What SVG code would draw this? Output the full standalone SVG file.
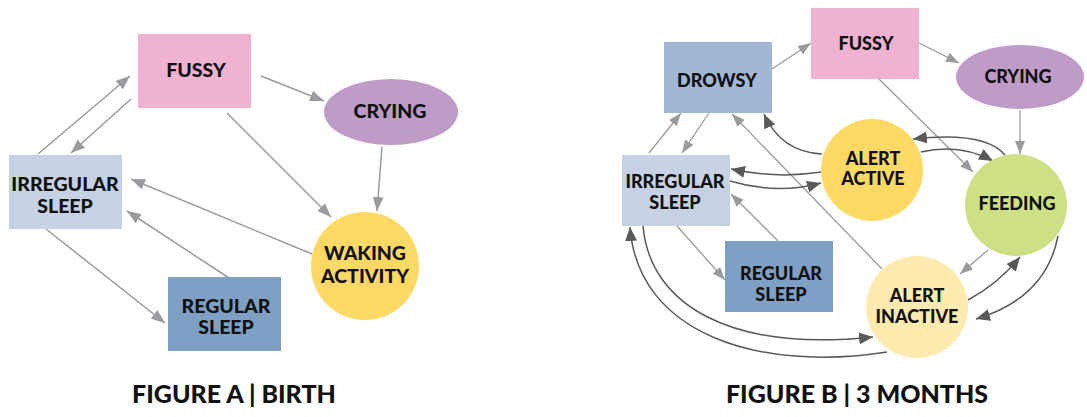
<svg xmlns="http://www.w3.org/2000/svg" width="1087" height="417" viewBox="0 0 1087 417">
<style>
.t{font-family:Lato,"Open Sans","Liberation Sans",sans-serif;font-weight:900;fill:#111;text-anchor:middle}
.ta{font-size:19.5px}
.tb{font-size:18px}
.cap{font-family:Lato,"Liberation Sans",sans-serif;font-weight:900;font-size:25px;fill:#111;text-anchor:middle}
.lg{fill:none;stroke:#9A9B9E;stroke-width:1.5}
.lgb{fill:none;stroke:#9A9B9E;stroke-width:1.3;marker-end:url(#mlb)}
.la{marker-end:url(#mla)}
.dk{fill:none;stroke:#58595B;stroke-width:1.5;marker-end:url(#md)}
</style>
<defs>
<marker id="mla" viewBox="0 0 14 11" refX="14" refY="5.5" markerWidth="14" markerHeight="11" markerUnits="userSpaceOnUse" orient="auto"><path d="M0,0 L14,5.5 L0,11 z" fill="#9A9B9E"/></marker>
<marker id="mlb" viewBox="0 0 13 10" refX="13" refY="5" markerWidth="13" markerHeight="10" markerUnits="userSpaceOnUse" orient="auto"><path d="M0,0 L13,5 L0,10 z" fill="#9A9B9E"/></marker>
<marker id="md" viewBox="0 0 14 12" refX="14" refY="6" markerWidth="14" markerHeight="12" markerUnits="userSpaceOnUse" orient="auto"><path d="M0,0 L14,6 L0,12 z" fill="#58595B"/></marker>
</defs>
<rect width="1087" height="417" fill="#fff"/>

<!-- Figure A connectors -->
<g id="connectors-a">
<line class="lg la" x1="38" y1="154" x2="130" y2="76"/>
<line class="lg la" x1="131" y1="99" x2="71" y2="153"/>
<line class="lg la" x1="261" y1="76" x2="324" y2="101"/>
<line class="lg la" x1="227" y1="113" x2="331" y2="217"/>
<line class="lg la" x1="382" y1="147" x2="377" y2="211"/>
<line class="lg la" x1="312" y1="254" x2="131" y2="179"/>
<line class="lg la" x1="232" y1="280" x2="127" y2="211"/>
<line class="lg la" x1="46" y1="229" x2="165" y2="323"/>
</g>

<!-- Figure A nodes -->
<g id="a-fussy"><rect x="138" y="34" width="113" height="74" fill="#EFB2D1"/><text class="t ta" x="196" y="77">FUSSY</text></g>
<g id="a-crying"><ellipse cx="391" cy="112" rx="67" ry="33" fill="#BF9BC8"/><text class="t ta" x="390" y="118">CRYING</text></g>
<g id="a-irregular"><rect x="9" y="155" width="113" height="74" fill="#C6D2E4"/><text class="t ta" x="65" y="191">IRREGULAR</text><text class="t ta" x="65" y="213">SLEEP</text></g>
<g id="a-waking"><circle cx="365" cy="266" r="54" fill="#FFD966"/><text class="t ta" x="365" y="260">WAKING</text><text class="t ta" x="365" y="283">ACTIVITY</text></g>
<g id="a-regular"><rect x="168" y="277" width="113" height="74" fill="#7EA0C5"/><text class="t ta" x="226" y="313">REGULAR</text><text class="t ta" x="226" y="334">SLEEP</text></g>

<!-- Figure B connectors -->
<g id="connectors-b">
<line class="lgb" x1="772" y1="69" x2="811" y2="43"/>
<line class="lgb" x1="919" y1="43" x2="959" y2="63"/>
<line class="lgb" x1="1020" y1="110" x2="1020" y2="154"/>
<line class="lgb" x1="879" y1="79" x2="973" y2="172"/>
<line class="lgb" x1="649" y1="153" x2="681" y2="113"/>
<line class="lgb" x1="709" y1="113" x2="682" y2="153"/>
<line class="lgb" x1="882" y1="269" x2="732" y2="114"/>
<line class="lgb" x1="778" y1="241" x2="731" y2="194"/>
<line class="lgb" x1="677" y1="226" x2="725" y2="280"/>
<line class="lgb" x1="988" y1="250" x2="960" y2="274"/>
<path class="dk" d="M822,154 Q781,152 764,114"/>
<path class="dk" d="M821,172 Q777,179 731,169"/>
<path class="dk" d="M730,181 Q777,195 821,183"/>
<path class="dk" d="M1005,155 Q985,131 913,139"/>
<path class="dk" d="M921,152 Q960,143 993,161"/>
<path class="dk" d="M968,300 Q998,284 1020,257"/>
<path class="dk" d="M1058,236 Q1046,298 976,319"/>
<path class="dk" d="M643,226 C650,305 730,352 873,337"/>
<path class="dk" d="M887,352 C760,372 638,335 630,227"/>
</g>

<!-- Figure B nodes -->
<g id="b-fussy"><rect x="811" y="8" width="108" height="71" fill="#EFB2D1"/><text class="t tb" x="866" y="50">FUSSY</text></g>
<g id="b-drowsy"><rect x="664" y="42" width="108" height="71" fill="#A2B7D6"/><text class="t tb" x="717" y="87">DROWSY</text></g>
<g id="b-crying"><ellipse cx="1020" cy="77" rx="64" ry="32" fill="#BF9BC8"/><text class="t tb" x="1018" y="83">CRYING</text></g>
<g id="b-alert-active"><circle cx="872" cy="170" r="51" fill="#FFD966"/><text class="t tb" x="873" y="165">ALERT</text><text class="t tb" x="873" y="185">ACTIVE</text></g>
<g id="b-irregular"><rect x="622" y="155" width="108" height="71" fill="#C6D2E4"/><text class="t tb" x="675" y="188">IRREGULAR</text><text class="t tb" x="675" y="209">SLEEP</text></g>
<g id="b-feeding"><circle cx="1016" cy="205" r="51" fill="#CEE086"/><text class="t tb" x="1017" y="210">FEEDING</text></g>
<g id="b-regular"><rect x="725" y="241" width="108" height="71" fill="#7EA0C5"/><text class="t tb" x="781" y="280">REGULAR</text><text class="t tb" x="781" y="301">SLEEP</text></g>
<g id="b-alert-inactive"><circle cx="917" cy="307" r="51" fill="#FFEBB0"/><text class="t tb" x="917" y="302">ALERT</text><text class="t tb" x="917" y="323">INACTIVE</text></g>

<g id="captions">
<text class="cap" x="234" y="403">FIGURE A | BIRTH</text>
<text class="cap" x="857" y="403">FIGURE B | 3 MONTHS</text>
</g>
</svg>
